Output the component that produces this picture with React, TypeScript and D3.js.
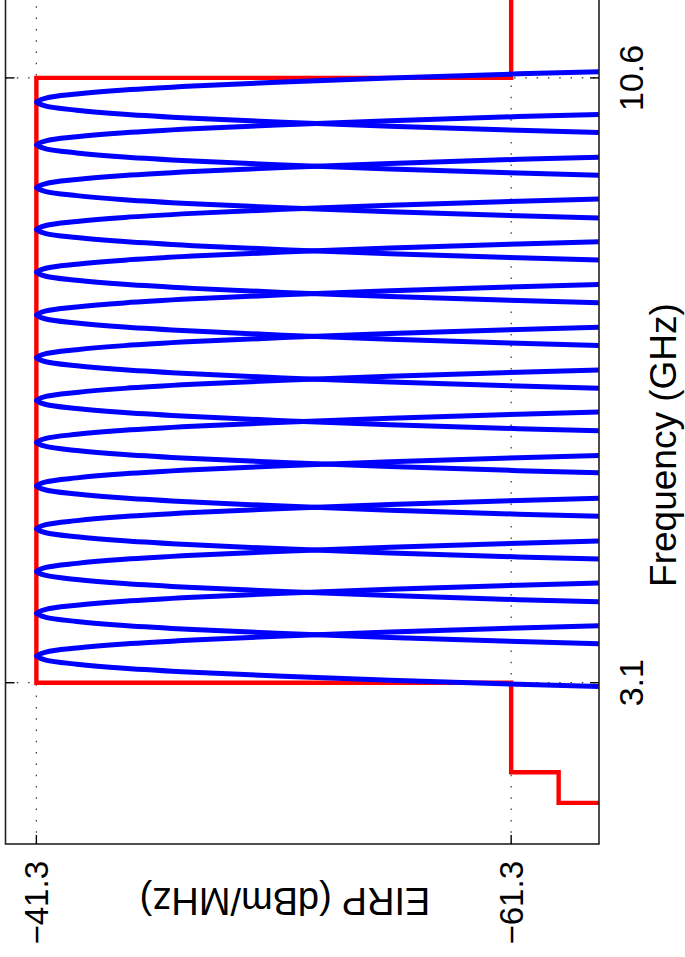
import React, { useRef, useEffect } from 'react'
import * as d3 from 'd3'

// FCC indoor UWB mask (step after each frequency)
const maskFreq = [0.96, 1.61, 1.99, 3.1, 10.6, 13]
const maskLevel = [-75.3, -63.3, -61.3, -41.3, -61.3, -61.3]

// centre frequencies of the 14 pulses (GHz)
const pulseCenters = [3.43, 3.96, 4.48, 5.01, 5.54, 6.08, 6.6, 7.13, 7.66, 8.19, 8.72, 9.24, 9.77, 10.3]

// one pulse spectrum: offset from centre (GHz) -> EIRP (dBm/MHz)
const pulseOffset = [-0.45, -0.4, -0.35, -0.3, -0.25, -0.2, -0.15, -0.1, -0.05, 0, 0.05, 0.1, 0.15, 0.2, 0.25, 0.3, 0.35, 0.4, 0.45]
const pulseLevel = [-74.9, -67.9, -61.6, -56.2, -51.7, -47.9, -45.0, -43.0, -41.7, -41.3, -41.7, -43.0, -45.0, -47.9, -51.7, -56.2, -61.6, -67.9, -74.9]

const freqTicks = [3.1, 10.6]
const eirpTicks = [-61.3, -41.3]

const FONT = 'Liberation Sans, Arial, Helvetica, sans-serif'

export default function App() {
  const svgRef = useRef<SVGSVGElement>(null)

  useEffect(() => {
    const svg = d3.select(svgRef.current)
    svg.selectAll('*').remove()

    const width = 685, height = 957
    svg.attr('width', width).attr('height', height)

    // the figure is drawn as a normal plot, then turned a quarter turn
    const g = svg.append('g').attr('transform', `translate(0,${height}) rotate(-90)`)

    const x = d3.scaleLinear().domain([1.1, 12]).range([113, 992])
    const y = d3.scaleLinear().domain([-65, -40]).range([599, 5.5])
    const [x0, x1] = x.range()
    const [yb, yt] = y.range()

    g.append('clipPath').attr('id', 'plot-clip')
      .append('rect').attr('x', x0).attr('y', yt).attr('width', x1 - x0).attr('height', yb - yt)

    // dotted grid
    g.selectAll('.vgrid').data(freqTicks).join('line')
      .attr('x1', d => x(d)).attr('x2', d => x(d)).attr('y1', yt).attr('y2', yb)
      .attr('stroke', '#333').attr('stroke-width', 1.2).attr('stroke-dasharray', '1.5 9.8')
    g.selectAll('.hgrid').data(eirpTicks).join('line')
      .attr('x1', x0).attr('x2', x1).attr('y1', d => y(d)).attr('y2', d => y(d))
      .attr('stroke', '#333').attr('stroke-width', 1.2).attr('stroke-dasharray', '1.5 9.8')

    const plot = g.append('g').attr('clip-path', 'url(#plot-clip)')

    const maskLine = d3.line<number>()
      .x((_, i) => x(maskFreq[i]))
      .y(d => y(d))
      .curve(d3.curveStepAfter)
    plot.append('path').datum(maskLevel)
      .attr('d', maskLine)
      .attr('fill', 'none').attr('stroke', '#ff0000').attr('stroke-width', 4.4)

    pulseCenters.forEach(c => {
      const pulseLine = d3.line<number>()
        .x((_, i) => x(c + pulseOffset[i]))
        .y(d => y(d))
        .curve(d3.curveCatmullRom)
      plot.append('path').datum(pulseLevel)
        .attr('d', pulseLine)
        .attr('fill', 'none').attr('stroke', '#0000ff').attr('stroke-width', 5)
    })

    // frame
    g.append('rect').attr('x', x0).attr('y', yt).attr('width', x1 - x0).attr('height', yb - yt)
      .attr('fill', 'none').attr('stroke', '#222').attr('stroke-width', 1.6)

    // inward ticks
    freqTicks.forEach(t => {
      g.append('line').attr('x1', x(t)).attr('x2', x(t)).attr('y1', yb).attr('y2', yb - 9)
        .attr('stroke', '#000').attr('stroke-width', 1.4)
      g.append('line').attr('x1', x(t)).attr('x2', x(t)).attr('y1', yt).attr('y2', yt + 9)
        .attr('stroke', '#000').attr('stroke-width', 1.4)
    })
    eirpTicks.forEach(t => {
      g.append('line').attr('x1', x0).attr('x2', x0 + 9).attr('y1', y(t)).attr('y2', y(t))
        .attr('stroke', '#000').attr('stroke-width', 1.4)
      g.append('line').attr('x1', x1).attr('x2', x1 - 9).attr('y1', y(t)).attr('y2', y(t))
        .attr('stroke', '#000').attr('stroke-width', 1.4)
    })

    // tick labels
    g.selectAll('.xtl').data(freqTicks).join('text')
      .attr('x', d => x(d)).attr('y', 643)
      .attr('text-anchor', 'middle').attr('font-family', FONT).attr('font-size', 34).attr('fill', '#000')
      .text(d => d3.format('.1f')(d))
    g.selectAll('.ytl').data(eirpTicks).join('text')
      .attr('x', 96).attr('y', d => y(d) + 12)
      .attr('text-anchor', 'end').attr('font-family', FONT).attr('font-size', 33).attr('fill', '#000')
      .text(d => d3.format('.1f')(d).replace('-', '\u2212'))

    // axis labels
    g.append('text').attr('x', 512).attr('y', 676)
      .attr('text-anchor', 'middle').attr('font-family', FONT).attr('font-size', 37).attr('fill', '#000')
      .text('Frequency (GHz)')
    g.append('text').attr('transform', 'translate(69,285) rotate(-90)')
      .attr('text-anchor', 'middle').attr('font-family', FONT).attr('font-size', 38).attr('fill', '#000')
      .text('EIRP (dBm/MHz)')
  }, [])

  return <svg ref={svgRef} style={{ position: 'absolute', left: 0, top: 0, background: '#fff' }} />
}
